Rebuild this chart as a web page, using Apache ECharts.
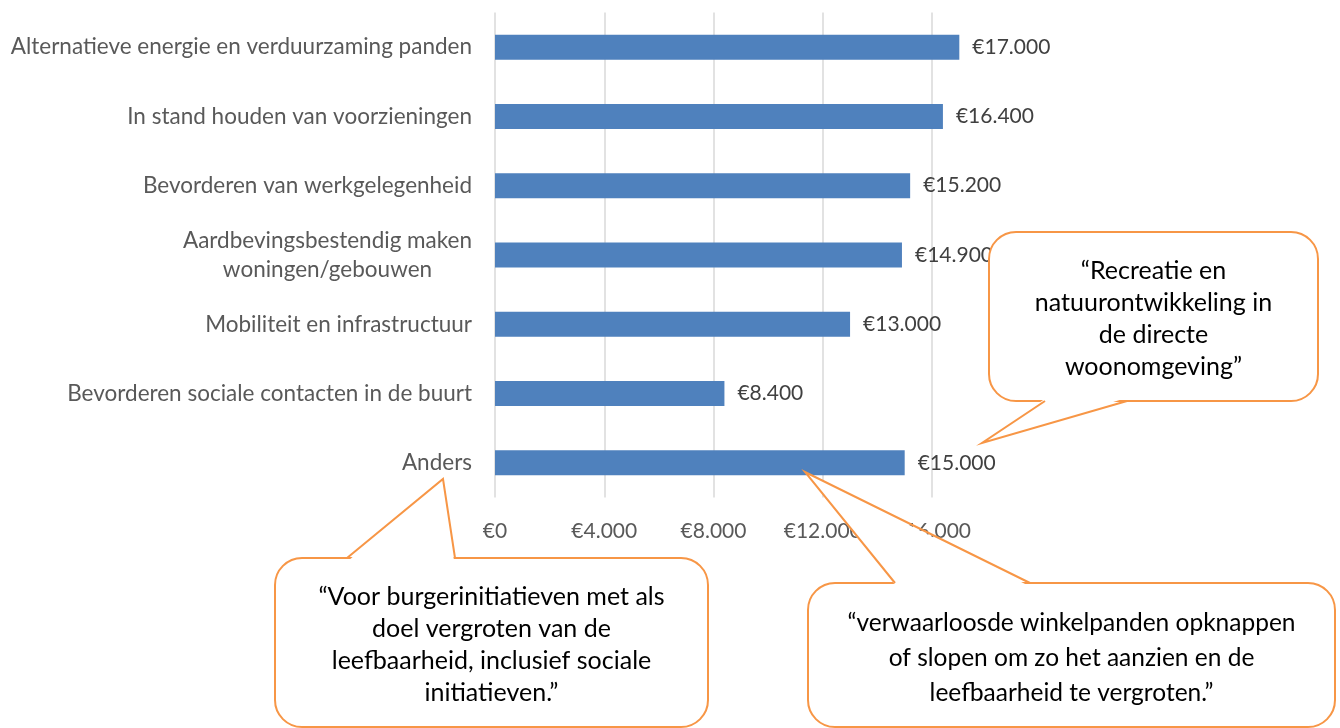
<!DOCTYPE html>
<html>
<head>
<meta charset="utf-8">
<script src="https://cdn.jsdelivr.net/npm/echarts@6/dist/echarts.min.js"></script>
<style>
  html, body { margin: 0; padding: 0; background: #fff; }
  #chart { width: 1340px; height: 728px; }
</style>
</head>
<body>
<div id="chart"></div>
<script>
// categories top to bottom
const categories = [
  'Alternatieve energie en verduurzaming panden',
  'In stand houden van voorzieningen',
  'Bevorderen van werkgelegenheid',
  'Aardbevingsbestendig maken\nwoningen/gebouwen',
  'Mobiliteit en infrastructuur',
  'Bevorderen sociale contacten in de buurt',
  'Anders'
]
const amounts = [17000, 16400, 15200, 14900, 13000, 8400, 15000]

const axisMin = 0
const axisMax = 16000
const axisStep = 4000

// quotes in the speech bubbles
const quoteRecreatie = '“Recreatie en\nnatuurontwikkeling in\nde directe\nwoonomgeving”'
const quoteBurger = '“Voor burgerinitiatieven met als\ndoel vergroten van de\nleefbaarheid, inclusief sociale\ninitiatieven.”'
const quoteWinkel = '“verwaarloosde winkelpanden opknappen\nof slopen om zo het aanzien en de\nleefbaarheid te vergroten.”'

const FONT = 'Lato, "Open Sans", sans-serif'
const ORANGE = '#F79646'

function euro(v) {
  return '€' + String(v).replace(/\B(?=(\d{3})+(?!\d))/g, '.')
}

// rounded box with a pointed tail, drawn as graphic elements
function callout(box, tail, text, fontSize, lineHeight) {
  const by = tail.edge === 'top' ? box.y : box.y + box.h
  const inset = tail.edge === 'top' ? 3 : -3
  const [x1, x2] = tail.base
  const [ax, ay] = tail.tip
  return [
    {
      type: 'rect',
      z: 100,
      shape: { x: box.x, y: box.y, width: box.w, height: box.h, r: box.r },
      style: { fill: '#fff', stroke: ORANGE, lineWidth: 2 },
    },
    {
      type: 'polygon',
      z: 101,
      shape: { points: [[x1 + 1, by + inset], [ax, ay], [x2 - 1, by + inset]] },
      style: { fill: '#fff' },
    },
    {
      type: 'polyline',
      z: 102,
      shape: { points: [[x1, by], [ax, ay], [x2, by]] },
      style: { stroke: ORANGE, lineWidth: 2, fill: null },
    },
    {
      type: 'text',
      z: 103,
      x: box.x + box.w / 2,
      y: box.y + box.h / 2 + (box.dy || 0),
      style: {
        text: text,
        fontSize: fontSize,
        fontFamily: FONT,
        fill: '#000',
        align: 'center',
        verticalAlign: 'middle',
        lineHeight: lineHeight,
      },
    },
  ]
}

const chart = echarts.init(document.getElementById('chart'))

const option = {
  animation: false,
  grid: {
    left: 495,
    right: 408,
    top: 12.5,
    bottom: 230.5,
  },
  xAxis: {
    type: 'value',
    min: axisMin,
    max: axisMax,
    interval: axisStep,
    axisLine: { show: false },
    axisTick: { show: false },
    splitLine: { lineStyle: { color: '#D9D9D9', width: 1.5 } },
    axisLabel: {
      color: '#595959',
      fontSize: 21,
      fontFamily: FONT,
      margin: 23,
      formatter: euro,
    },
  },
  yAxis: {
    type: 'category',
    inverse: true,
    data: categories,
    axisLine: { show: false },
    axisTick: { show: false },
    axisLabel: {
      margin: 23,
      formatter: (v) => v.split('\n').map((s) => '{c|' + s + '}').join('\n'),
      rich: {
        c: {
          align: 'center',
          color: '#595959',
          fontSize: 22.5,
          fontFamily: FONT,
          lineHeight: 29,
        },
      },
    },
  },
  series: [
    {
      type: 'bar',
      data: amounts,
      barWidth: 25,
      clip: false,
      itemStyle: { color: '#4F81BD' },
      label: {
        show: true,
        position: 'right',
        distance: 13,
        color: '#404040',
        fontSize: 21,
        fontFamily: FONT,
        formatter: (p) => euro(p.value),
      },
    },
  ],
  graphic: [
    ...callout(
      { x: 989, y: 232, w: 329, h: 169, r: 27, dy: 2 },
      { edge: 'bottom', base: [1045, 1127], tip: [982, 443] },
      quoteRecreatie, 25, 32
    ),
    ...callout(
      { x: 275, y: 558, w: 433, h: 169, r: 27, dy: 2 },
      { edge: 'top', base: [347, 455], tip: [443, 479] },
      quoteBurger, 25, 32
    ),
    ...callout(
      { x: 808, y: 583, w: 527, h: 144, r: 27, dy: 3 },
      { edge: 'top', base: [895, 1030], tip: [805, 472] },
      quoteWinkel, 24.5, 35
    ),
  ],
}

chart.setOption(option)

window.addEventListener('resize', () => {
  chart.resize()
})
</script>
</body>
</html>
